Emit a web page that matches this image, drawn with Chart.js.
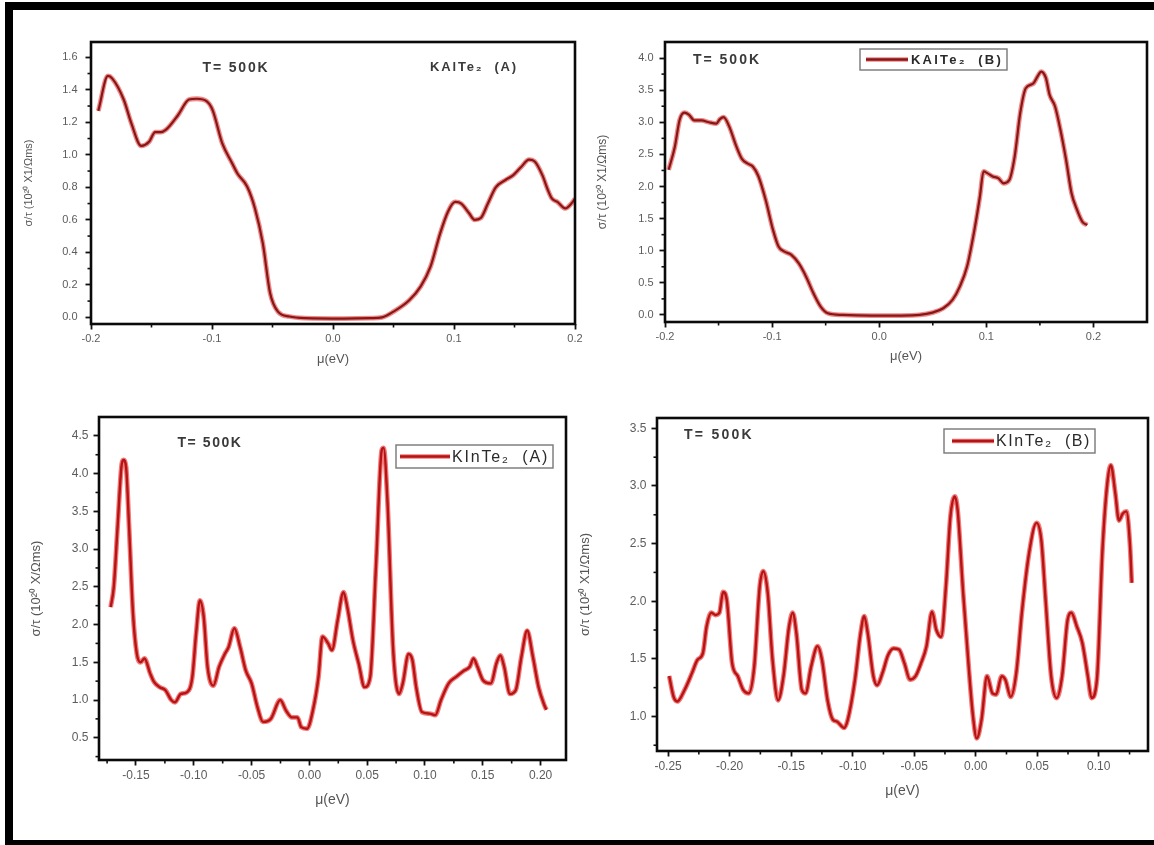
<!DOCTYPE html>
<html>
<head>
<meta charset="utf-8">
<script src="https://cdn.jsdelivr.net/npm/chart.js@4.4.1/dist/chart.umd.min.js"></script>
<style>
html,body{margin:0;padding:0;background:#fff;width:1154px;height:845px;overflow:hidden;position:relative;}
#frame{position:absolute;left:5px;top:2px;width:1160px;height:843px;border-left:8px solid #000;border-top:8px solid #000;border-bottom:5px solid #000;box-sizing:border-box;}
canvas{position:absolute;}
</style>
</head>
<body>
<div id="frame"></div>
<canvas id="c1"></canvas>
<canvas id="c2"></canvas>
<canvas id="c3"></canvas>
<canvas id="c4"></canvas>
<script>
const FONT = "'Liberation Sans', Arial, Helvetica, sans-serif";

// ---------- Panel 1: KAlTe2 (A) ----------
const p1Mu = [-0.194,-0.186,-0.1825,-0.173,-0.1665,-0.1585,-0.152,-0.147,-0.1425,-0.138,-0.128,-0.119,-0.1125,-0.1045,-0.0995,-0.0915,-0.0835,-0.079,-0.071,-0.0645,-0.058,-0.052,-0.0455,-0.036,-0.023,0.009,0.031,0.0405,0.05,0.063,0.0725,0.0805,0.0885,0.095,0.101,0.106,0.1125,0.117,0.122,0.128,0.1345,0.1425,0.149,0.1555,0.162,0.1665,0.173,0.1775,0.181,0.1855,0.192,0.197,0.2];
const p1Sigma = [1.27,1.485,1.47,1.34,1.19,1.055,1.08,1.14,1.14,1.155,1.245,1.34,1.345,1.33,1.275,1.07,0.95,0.885,0.805,0.67,0.455,0.15,0.035,0.005,-0.005,-0.008,-0.005,0.0,0.035,0.105,0.19,0.31,0.515,0.65,0.71,0.70,0.64,0.60,0.61,0.70,0.80,0.845,0.875,0.925,0.97,0.96,0.875,0.785,0.73,0.71,0.67,0.70,0.73];
const p1XMajor = [-0.2,-0.1,0.0,0.1,0.2];
const p1XMinor = [-0.15,-0.05,0.05,0.15];
const p1YMajor = [0.0,0.2,0.4,0.6,0.8,1.0,1.2,1.4,1.6];
const p1YMinor = [0.1,0.3,0.5,0.7,0.9,1.1,1.3,1.5];

// ---------- Panel 2: KAlTe2 (B) ----------
const p2Mu = [-0.1966,-0.1908,-0.1863,-0.1819,-0.1778,-0.1726,-0.1658,-0.159,-0.1521,-0.1487,-0.1453,-0.1402,-0.1333,-0.1282,-0.1231,-0.118,-0.1128,-0.106,-0.0991,-0.094,-0.0889,-0.082,-0.0752,-0.0684,-0.0615,-0.0547,-0.0479,-0.0342,-0.0068,0.0205,0.0376,0.0496,0.0598,0.0684,0.0752,0.082,0.0889,0.094,0.0974,0.1009,0.106,0.1111,0.1162,0.1214,0.1265,0.1316,0.1368,0.1436,0.1487,0.1511,0.1556,0.159,0.1641,0.1692,0.1744,0.1795,0.1846,0.1897,0.1942];
const p2Sigma = [2.26,2.62,3.04,3.15,3.12,3.03,3.03,3.0,2.98,3.05,3.08,2.94,2.62,2.43,2.36,2.31,2.16,1.79,1.32,1.065,0.99,0.935,0.805,0.60,0.34,0.13,0.026,0.0,-0.01,-0.01,0.0,0.036,0.104,0.234,0.44,0.753,1.325,1.844,2.234,2.208,2.156,2.13,2.05,2.10,2.47,3.14,3.53,3.60,3.74,3.79,3.69,3.43,3.25,2.88,2.42,1.90,1.64,1.45,1.40];
const p2XMajor = [-0.2,-0.1,0.0,0.1,0.2];
const p2XMinor = [-0.15,-0.05,0.05,0.15];
const p2YMajor = [0.0,0.5,1.0,1.5,2.0,2.5,3.0,3.5,4.0];
const p2YMinor = [0.25,0.75,1.25,1.75,2.25,2.75,3.25,3.75];

// ---------- Panel 3: KInTe2 (A) ----------
const p3Mu = [-0.1719,-0.1692,-0.1659,-0.1626,-0.1609,-0.1586,-0.156,-0.1526,-0.1493,-0.146,-0.1427,-0.1377,-0.1344,-0.1295,-0.1245,-0.1195,-0.1162,-0.1113,-0.1063,-0.1013,-0.098,-0.0947,-0.0914,-0.0881,-0.0831,-0.0781,-0.0732,-0.0699,-0.0649,-0.0599,-0.055,-0.05,-0.045,-0.0401,-0.0334,-0.0252,-0.0202,-0.0152,-0.0103,-0.007,-0.002,0.003,0.0079,0.0113,0.0162,0.0195,0.0245,0.0295,0.0328,0.0377,0.0427,0.0477,0.0526,0.0576,0.0626,0.0642,0.0675,0.0725,0.0775,0.0808,0.0858,0.0891,0.0924,0.0974,0.104,0.1089,0.1139,0.1205,0.1272,0.1338,0.1387,0.142,0.1454,0.1503,0.157,0.1619,0.1652,0.1685,0.1735,0.1785,0.1834,0.1884,0.1934,0.1983,0.2033,0.205];
const p3Sigma = [2.23,2.50,3.30,4.09,4.18,4.09,3.30,2.15,1.615,1.50,1.55,1.35,1.24,1.17,1.13,1.0,0.97,1.08,1.10,1.30,1.88,2.32,2.10,1.44,1.19,1.44,1.61,1.70,1.95,1.70,1.39,1.22,0.91,0.71,0.75,1.0,0.86,0.77,0.77,0.64,0.62,0.86,1.31,1.84,1.75,1.66,2.06,2.43,2.23,1.79,1.48,1.17,1.30,2.77,4.31,4.34,3.65,1.66,1.08,1.22,1.61,1.53,1.17,0.84,0.82,0.80,1.0,1.22,1.31,1.39,1.44,1.55,1.44,1.26,1.22,1.49,1.59,1.44,1.08,1.13,1.57,1.92,1.57,1.17,0.93,0.87];
const p3XMajor = [-0.15,-0.10,-0.05,0.00,0.05,0.10,0.15,0.20];
const p3XMinor = [-0.175,-0.125,-0.075,-0.025,0.025,0.075,0.125,0.175];
const p3YMajor = [0.5,1.0,1.5,2.0,2.5,3.0,3.5,4.0,4.5];
const p3YMinor = [0.25,0.75,1.25,1.75,2.25,2.75,3.25,3.75,4.25];

// ---------- Panel 4: KInTe2 (B) ----------
const p4Mu = [-0.2491,-0.2455,-0.2426,-0.2366,-0.2306,-0.2262,-0.2217,-0.2187,-0.2149,-0.2113,-0.2083,-0.2053,-0.2023,-0.1979,-0.1934,-0.1889,-0.1845,-0.18,-0.1755,-0.1726,-0.169,-0.1651,-0.1606,-0.1562,-0.1517,-0.1487,-0.1457,-0.1413,-0.1383,-0.1338,-0.1285,-0.1249,-0.1204,-0.116,-0.113,-0.107,-0.104,-0.0981,-0.0936,-0.0906,-0.0877,-0.0832,-0.0802,-0.0757,-0.0713,-0.0668,-0.0623,-0.0579,-0.0534,-0.0489,-0.0445,-0.04,-0.0355,-0.032,-0.0281,-0.0242,-0.0206,-0.017,-0.0147,-0.0102,-0.0057,-0.0022,0.0008,0.0047,0.0092,0.0136,0.0166,0.0211,0.024,0.0285,0.033,0.0375,0.0434,0.0494,0.0533,0.0568,0.0613,0.0658,0.0702,0.0747,0.0777,0.0822,0.0866,0.0911,0.0941,0.0985,0.103,0.1069,0.1098,0.1134,0.1164,0.1194,0.1224,0.1253,0.1268];
const p4Sigma = [1.35,1.17,1.13,1.23,1.376,1.49,1.55,1.78,1.90,1.88,1.90,2.08,2.01,1.46,1.35,1.23,1.20,1.43,2.13,2.26,2.07,1.49,1.14,1.35,1.78,1.90,1.72,1.23,1.20,1.43,1.61,1.49,1.14,0.97,0.957,0.90,0.97,1.32,1.72,1.87,1.72,1.35,1.27,1.38,1.53,1.59,1.58,1.46,1.32,1.35,1.46,1.61,1.91,1.75,1.69,2.13,2.73,2.91,2.79,2.07,1.43,1.0,0.81,0.97,1.35,1.20,1.19,1.35,1.32,1.17,1.38,1.90,2.42,2.68,2.53,2.01,1.35,1.16,1.35,1.84,1.90,1.78,1.64,1.35,1.16,1.32,2.445,3.02,3.18,2.94,2.70,2.76,2.78,2.50,2.16];
const p4XMajor = [-0.25,-0.20,-0.15,-0.10,-0.05,0.00,0.05,0.10];
const p4XMinor = [-0.225,-0.175,-0.125,-0.075,-0.025,0.025,0.075,0.125];
const p4YMajor = [1.0,1.5,2.0,2.5,3.0,3.5];
const p4YMinor = [0.75,1.25,1.75,2.25,2.75,3.25];

const seriesLabels = ['KAlTe\u2082  (A)','KAlTe\u2082  (B)','KInTe\u2082  (A)','KInTe\u2082  (B)'];
const tempLabel = 'T= 500K';
const xTitle = '\u03BC(eV)';
const yTitles = ['\u03C3/\u03C4 (10\u00B2\u2070 X1/\u03A9ms)','\u03C3/\u03C4 (10\u00B2\u2070 X1/\u03A9ms)','\u03C3/\u03C4 (10\u00B2\u2070 X/\u03A9ms)','\u03C3/\u03C4 (10\u00B2\u2070 X1/\u03A9ms)'];

function isIn(list, v){ return list.some(m => Math.abs(m - v) < 1e-9); }

function fitText(ctx, text, x, y, target, font, color, align){
  ctx.save();
  ctx.font = font; ctx.fillStyle = color; ctx.textBaseline = 'middle';
  ctx.letterSpacing = '0px';
  const w = ctx.measureText(text).width;
  let sp = (target - w) / text.length;
  sp = Math.max(-1, Math.min(3, sp));
  ctx.letterSpacing = sp.toFixed(2) + 'px';
  const w2 = ctx.measureText(text).width;
  ctx.textAlign = 'left';
  const x0 = align === 'center' ? x - w2/2 : x;
  ctx.fillText(text, x0, y);
  ctx.restore();
}

const decorPlugin = {
  id: 'decor',
  afterDatasetsDraw(chart) {
    const o = chart.options.plugins.decor;
    const ctx = chart.ctx;
    const a = chart.chartArea;
    const cx = o.origin[0], cy = o.origin[1];
    ctx.save();
    ctx.strokeStyle = '#111'; ctx.lineWidth = 1.6;
    const xs = chart.scales.x, ys = chart.scales.y;
    xs.ticks.forEach(t => {
      if (!isIn(o.xMajor, t.value)) {
        const px = xs.getPixelForValue(t.value);
        ctx.beginPath(); ctx.moveTo(px, a.bottom); ctx.lineTo(px, a.bottom + 3.5); ctx.stroke();
      }
    });
    ys.ticks.forEach(t => {
      if (!isIn(o.yMajor, t.value)) {
        const py = ys.getPixelForValue(t.value);
        ctx.beginPath(); ctx.moveTo(a.left, py); ctx.lineTo(a.left - 3.5, py); ctx.stroke();
      }
    });
    ctx.strokeStyle = '#0a0a0a'; ctx.lineWidth = 2.6;
    ctx.strokeRect(a.left, a.top, a.right - a.left, a.bottom - a.top);
    ctx.restore();
    fitText(ctx, tempLabel, o.temp[0]-cx, o.temp[1]-cy, o.temp[2], 'bold 14px ' + FONT, '#3a3a3a', 'center');
    const ds = chart.data.datasets[0];
    if (o.legend.box) {
      const b = o.legend.box;
      ctx.save();
      ctx.strokeStyle = '#777'; ctx.lineWidth = 1.4;
      ctx.strokeRect(b[0]-cx, b[1]-cy, b[2]-b[0], b[3]-b[1]);
      const ly = (b[1]+b[3])/2 - cy;
      ctx.lineCap = 'butt';
      ctx.strokeStyle = chart.data.datasets[1].borderColor; ctx.lineWidth = 4.5;
      ctx.beginPath(); ctx.moveTo(o.legend.line[0]-cx, ly); ctx.lineTo(o.legend.line[1]-cx, ly); ctx.stroke();
      ctx.strokeStyle = ds.borderColor; ctx.lineWidth = 2.4;
      ctx.beginPath(); ctx.moveTo(o.legend.line[0]-cx, ly); ctx.lineTo(o.legend.line[1]-cx, ly); ctx.stroke();
      ctx.restore();
      fitText(ctx, ds.label, o.legend.text[0]-cx, ly+1, o.legend.text[1], o.legend.font + ' ' + FONT, '#2a2a2a', 'left');
    } else {
      fitText(ctx, ds.label, o.legend.text[0]-cx, o.legend.text[2]-cy, o.legend.text[1], o.legend.font + ' ' + FONT, '#3a3a3a', 'left');
    }
  }
};

function makePanel(p) {
  const cv = document.getElementById(p.id);
  const [cl, ct, cr, cb] = p.canvas;
  const [L, T, R, B] = p.plot;
  cv.width = cr - cl; cv.height = cb - ct;
  cv.style.left = cl + 'px'; cv.style.top = ct + 'px';
  const pts = p.mu.map((m, i) => ({x: m, y: p.sigma[i]}));
  const xAll = p.xMajor.concat(p.xMinor).sort((a,b)=>a-b);
  const yAll = p.yMajor.concat(p.yMinor).sort((a,b)=>a-b);
  const tickFont = {family: FONT, size: p.tickSize};
  new Chart(cv, {
    type: 'line',
    data: {
      datasets: [
        {label: p.label, data: pts, borderColor: p.core, borderWidth: p.coreW, pointRadius: 0, cubicInterpolationMode: 'monotone', order: 0},
        {label: '', data: pts, borderColor: p.halo, borderWidth: 4.8, pointRadius: 0, cubicInterpolationMode: 'monotone', order: 1}
      ]
    },
    options: {
      responsive: false, animation: false, events: [],
      layout: {padding: {left: 0, top: T - ct, right: cr - R, bottom: 0}},
      plugins: {
        legend: {display: false}, tooltip: {enabled: false},
        decor: {origin: [cl, ct], xMajor: p.xMajor, yMajor: p.yMajor, temp: p.temp, legend: p.legend}
      },
      scales: {
        x: {
          type: 'linear', min: p.xRange[0], max: p.xRange[1],
          afterFit: s => { s.height = cb - B; },
          afterBuildTicks: s => { s.ticks = xAll.map(v => ({value: v})); },
          border: {display: false},
          grid: {display: true, drawOnChartArea: false, drawTicks: true, tickLength: 5.5, tickWidth: 1.8,
                 tickColor: c => (c.tick && isIn(p.xMajor, c.tick.value)) ? '#111' : 'rgba(0,0,0,0)'},
          ticks: {autoSkip: false, maxRotation: 0, minRotation: 0, padding: 3, color: '#5c5c5c', font: tickFont,
                  callback: v => isIn(p.xMajor, v) ? (Math.abs(v) < 1e-9 ? 0 : v).toFixed(p.xDec) : ''},
          title: {display: true, text: xTitle, color: '#555', font: {family: FONT, size: p.xTitleSize}, padding: {top: 4, bottom: 4}}
        },
        y: {
          type: 'linear', min: p.yRange[0], max: p.yRange[1],
          afterFit: s => { s.width = L - cl; },
          afterBuildTicks: s => { s.ticks = yAll.map(v => ({value: v})); },
          border: {display: false},
          grid: {display: true, drawOnChartArea: false, drawTicks: true, tickLength: 5.5, tickWidth: 1.8,
                 tickColor: c => (c.tick && isIn(p.yMajor, c.tick.value)) ? '#111' : 'rgba(0,0,0,0)'},
          ticks: {autoSkip: false, padding: p.yPad, color: '#5c5c5c', font: tickFont,
                  callback: v => isIn(p.yMajor, v) ? v.toFixed(1) : ''},
          title: {display: true, text: p.yTitle, color: '#555', font: {family: FONT, size: p.yTitleSize}, padding: {top: 4, bottom: 4}}
        }
      }
    },
    plugins: [decorPlugin]
  });
}

makePanel({id:'c1', canvas:[18,22,587,371], plot:[91,42,575,324], mu:p1Mu, sigma:p1Sigma,
  xRange:[-0.2,0.2], yRange:[-0.041,1.694], xMajor:p1XMajor, xMinor:p1XMinor, yMajor:p1YMajor, yMinor:p1YMinor,
  xDec:1, tickSize:11, yPad:8, xTitleSize:13, yTitleSize:11, yTitle:yTitles[0], label:seriesLabels[0],
  core:'#861717', halo:'rgba(226,40,40,0.55)', coreW:2.2,
  temp:[236,68,67], legend:{text:[430,88,67], font:'bold 13px'}});

makePanel({id:'c2', canvas:[591,22,1154,368], plot:[665,42,1147,322], mu:p2Mu, sigma:p2Sigma,
  xRange:[-0.2,0.25], yRange:[-0.11,4.25], xMajor:p2XMajor, xMinor:p2XMinor, yMajor:p2YMajor, yMinor:p2YMinor,
  xDec:1, tickSize:11, yPad:6, xTitleSize:13, yTitleSize:12, yTitle:yTitles[1], label:seriesLabels[1],
  core:'#861717', halo:'rgba(226,40,40,0.55)', coreW:2.2,
  temp:[727,60,68], legend:{box:[860,49,1007,70], line:[866,908], text:[911,92], font:'bold 13px'}});

makePanel({id:'c3', canvas:[25,397,578,813], plot:[99,417,566,760], mu:p3Mu, sigma:p3Sigma,
  xRange:[-0.182,0.222], yRange:[0.205,4.75], xMajor:p3XMajor, xMinor:p3XMinor, yMajor:p3YMajor, yMinor:p3YMinor,
  xDec:2, tickSize:12, yPad:5, xTitleSize:14, yTitleSize:13, yTitle:yTitles[2], label:seriesLabels[2],
  core:'#b51414', halo:'rgba(235,30,30,0.6)', coreW:2.4,
  temp:[210,443,65], legend:{box:[396,445,553,468], line:[400,450], text:[452,97], font:'16px'}});

makePanel({id:'c4', canvas:[574,398,1154,804], plot:[657,418,1148,751], mu:p4Mu, sigma:p4Sigma,
  xRange:[-0.259,0.14], yRange:[0.70,3.59], xMajor:p4XMajor, xMinor:p4XMinor, yMajor:p4YMajor, yMinor:p4YMinor,
  xDec:2, tickSize:12, yPad:5, xTitleSize:14, yTitleSize:13, yTitle:yTitles[3], label:seriesLabels[3],
  core:'#b51414', halo:'rgba(235,30,30,0.6)', coreW:2.4,
  temp:[719,435,70], legend:{box:[944,429,1095,453], line:[952,994], text:[996,95], font:'16px'}});
</script>
</body>
</html>
